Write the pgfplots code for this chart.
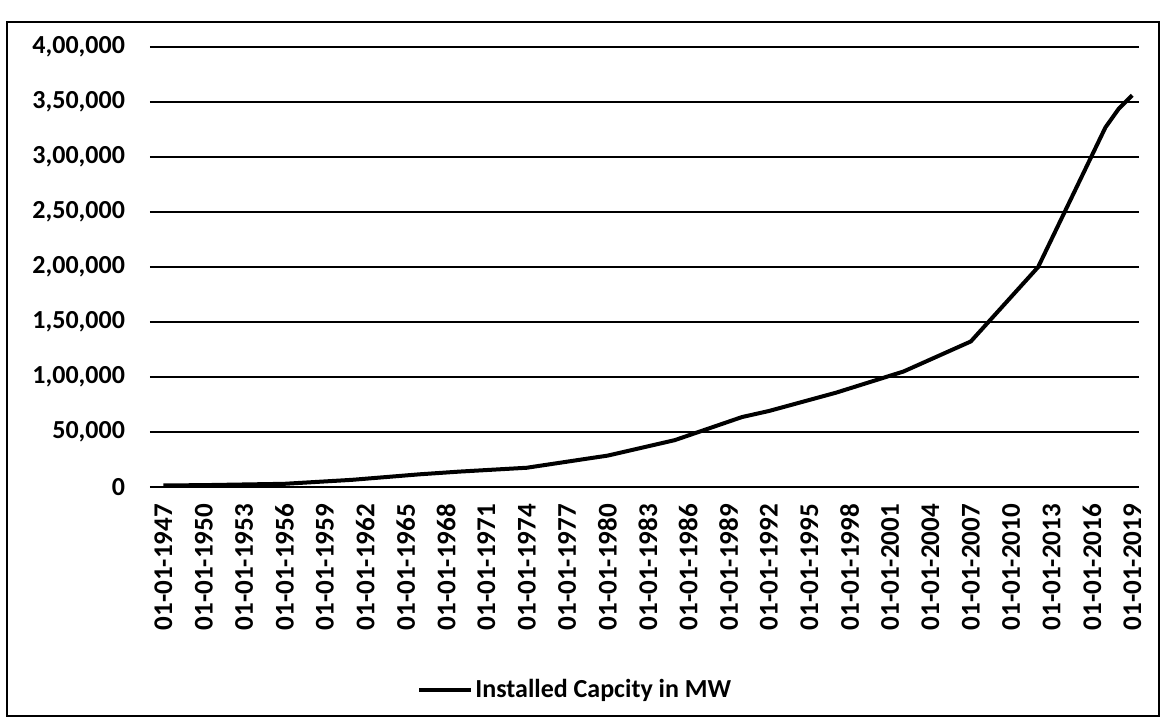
\documentclass[border=0pt]{standalone}
\usepackage{fontspec}
\setmainfont{Carlito}
\usepackage{pgfplots}
\pgfplotsset{compat=1.18}
\begin{document}
\begin{tikzpicture}
\useasboundingbox (0,0) rectangle (581.5pt,361pt);
\draw[line width=1pt] (3.5pt,3pt) rectangle (579.5pt,350pt);
\begin{axis}[
  at={(75pt,117.5pt)}, anchor=south west,
  scale only axis, width=494.5pt, height=220pt,
  xmin=1946, xmax=2019.5, ymin=0, ymax=400000,
  scaled y ticks=false,
  axis line style={draw=none},
  major tick length=0pt,
  ymajorgrids, grid style={black, line width=1pt},
  ytick={0,50000,100000,150000,200000,250000,300000,350000,400000},
  yticklabels={0,{50,000},{1,00,000},{1,50,000},{2,00,000},{2,50,000},{3,00,000},{3,50,000},{4,00,000}},
  yticklabel style={font=\fontsize{13}{15}\selectfont\bfseries, xshift=-9pt},
  xtick={1947,1950,...,2019},
  xticklabels={01-01-1947,01-01-1950,01-01-1953,01-01-1956,01-01-1959,01-01-1962,01-01-1965,01-01-1968,01-01-1971,01-01-1974,01-01-1977,01-01-1980,01-01-1983,01-01-1986,01-01-1989,01-01-1992,01-01-1995,01-01-1998,01-01-2001,01-01-2004,01-01-2007,01-01-2010,01-01-2013,01-01-2016,01-01-2019},
  xticklabel shift=5pt,
  xticklabel style={font=\fontsize{13.5}{15}\selectfont\bfseries, rotate=90, anchor=east},
  legend style={at={(0.43,-0.461)}, anchor=center, draw=none, fill=none,
    font=\fontsize{13}{15}\selectfont\bfseries, inner sep=0pt,
    nodes={inner sep=1pt}},
  legend image code/.code={\draw[line width=2pt] (0pt,0pt) -- (26pt,0pt);},
]
\addplot[black, line width=2pt] coordinates {
(1947,1400) (1950,1700) (1956,2900) (1961,6500) (1966,11500) (1969,14000)
(1974,17500) (1979,26700) (1980,28500) (1985,42600) (1990,63600) (1992,69100)
(1997,85800) (2002,105000) (2007,132300) (2012,199900) (2017,326800)
(2018,344000) (2019,356100)};
\addlegendentry{Installed Capcity in MW}
\end{axis}
\end{tikzpicture}
\end{document}
